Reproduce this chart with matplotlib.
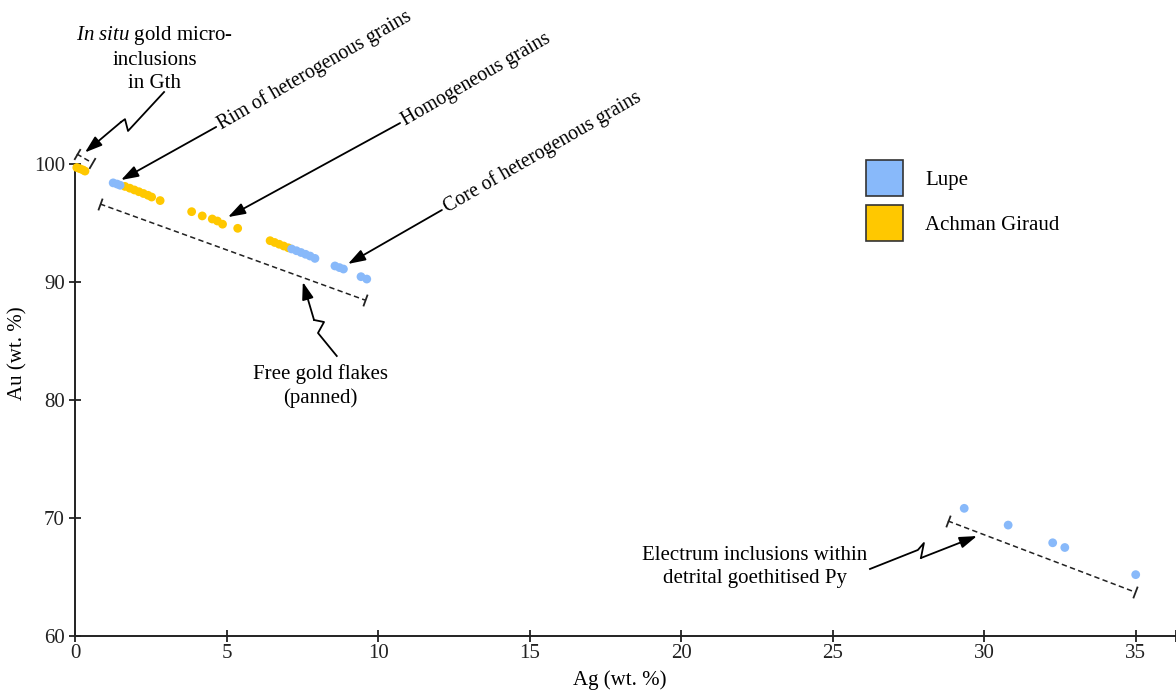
import numpy as np
import matplotlib
matplotlib.use("Agg")
import matplotlib.pyplot as plt
from matplotlib.patches import Patch

plt.rcParams['font.family'] = ['Liberation Serif', 'DejaVu Serif']
plt.rcParams['mathtext.fontset'] = 'custom'
plt.rcParams['mathtext.rm'] = 'Liberation Serif'
plt.rcParams['mathtext.it'] = 'Liberation Serif:italic'

# ---------------- data ----------------
lupe_ag = [1.25, 1.38, 1.48,
           7.14, 7.3, 7.45, 7.6, 7.75, 7.91,
           8.57, 8.72, 8.85,
           9.43, 9.62,
           29.34, 30.79, 32.26, 32.66, 35.0]
lupe_au = [98.4, 98.3, 98.2,
           92.8, 92.65, 92.5, 92.35, 92.2, 92.0,
           91.36, 91.22, 91.1,
           90.45, 90.25,
           70.82, 69.4, 67.9, 67.5, 65.2]

achman_ag = [0.05, 0.15, 0.25, 0.32,
             1.64, 1.8, 1.95, 2.1, 2.25, 2.4, 2.52, 2.8,
             3.84, 4.19, 4.52, 4.69, 4.86, 5.36,
             6.43, 6.58, 6.73, 6.88, 7.03]
achman_au = [99.7, 99.6, 99.5, 99.4,
             98.1, 97.95, 97.8, 97.65, 97.5, 97.35, 97.2, 96.9,
             95.96, 95.6, 95.34, 95.17, 94.9, 94.55,
             93.5, 93.35, 93.2, 93.05, 92.9]

x_ticks = [0, 5, 10, 15, 20, 25, 30, 35]
y_ticks = [60, 70, 80, 90, 100]
series_labels = ['Lupe', 'Achman Giraud']
blue = '#88B9FA'
yellow = '#FFC800'

FS = 15

fig = plt.figure(figsize=(11.76, 6.91), dpi=100)
ax = fig.add_axes([75.3 / 1176, 1 - 636 / 691, (1176 - 75.3) / 1176, (636 - 164) / 691])
xmax = 36.33
ax.set_xlim(0, xmax)
ax.set_ylim(60, 100)

for s in ['top', 'right']:
    ax.spines[s].set_visible(False)
for s in ['left', 'bottom']:
    ax.spines[s].set_linewidth(1.4)
    ax.spines[s].set_color('#222222')

ax.set_xticks(x_ticks)
ax.set_yticks(y_ticks)
ax.set_xticks([xmax], minor=True)
ax.tick_params(axis='both', which='both', direction='inout', length=9, width=1.3,
               labelsize=FS, colors='#222222')
ax.tick_params(axis='x', pad=1.5)
ax.tick_params(axis='y', pad=3)

ax.scatter(achman_ag, achman_au, s=40, color=yellow, edgecolors='none', zorder=3, clip_on=False)
ax.scatter(lupe_ag, lupe_au, s=40, color=blue, edgecolors='none', zorder=3, clip_on=False)

ax.set_xlabel('Ag (wt. %)', fontsize=FS)
ax.set_ylabel('Au (wt. %)', fontsize=FS)
ax.xaxis.set_label_coords(0.495, -0.072)
ax.yaxis.set_label_coords(-0.043, 0.60)

# legend
handles = [Patch(facecolor=blue, edgecolor='#333333', linewidth=1.2),
           Patch(facecolor=yellow, edgecolor='#333333', linewidth=1.2)]
fig.legend(handles, series_labels, loc='upper left', bbox_to_anchor=(866 / 1176, 1 - 160 / 691),
           bbox_transform=fig.transFigure, frameon=False, fontsize=FS, borderpad=0,
           borderaxespad=0, handlelength=1.78, handleheight=2.29, handletextpad=1.05,
           labelspacing=0.43)

# ---------------- annotations ----------------
arrow_kw = dict(arrowstyle='-|>,head_length=0.75,head_width=0.25', color='black', lw=1.3,
                shrinkA=0, shrinkB=0, mutation_scale=14)


def bracket(p0, p1):
    ax.plot([p0[0], p1[0]], [p0[1], p1[1]], ls=(0, (3.5, 2.2)), color='#222222', lw=1.1,
            clip_on=False, zorder=2)
    d0 = ax.transData.transform(p0)
    d1 = ax.transData.transform(p1)
    ang = np.degrees(np.arctan2(d1[1] - d0[1], d1[0] - d0[0]))
    for p in (p0, p1):
        ax.plot([p[0]], [p[1]], marker=(2, 0, ang), markersize=9, mew=1.3, color='#222222',
                clip_on=False, zorder=2)


def zigzag(points, tip):
    xs = [p[0] for p in points]
    ys = [p[1] for p in points]
    ax.plot(xs, ys, color='black', lw=1.3, clip_on=False, solid_joinstyle='round')
    ax.annotate('', xy=tip, xytext=points[-1], arrowprops=arrow_kw, annotation_clip=False)


# dashed brackets
bracket((0.82, 96.61), (9.56, 88.47))
bracket((28.80, 69.75), (34.97, 63.73))
bracket((0.05, 100.85), (0.54, 100.12))

# In situ annotation
ax.text(2.63, 108.95, '$\\mathit{In\\ situ}$ gold micro-\ninclusions\nin Gth', ha='center', va='center',
        fontsize=FS, linespacing=1.3, multialignment='center')
zigzag([(2.93, 106.1), (1.74, 102.8), (1.64, 103.8), (1.51, 103.56)], (0.32, 100.98))

# Free gold flakes
ax.text(8.08, 81.19, 'Free gold flakes\n(panned)', ha='center', va='center', fontsize=FS,
        linespacing=1.3)
zigzag([(8.63, 83.73), (8.01, 85.68), (8.21, 86.61), (7.88, 86.78)], (7.51, 90.0))

# Electrum
ax.text(22.43, 65.85, 'Electrum inclusions within\ndetrital goethitised Py', ha='center',
        va='center', fontsize=FS, linespacing=1.3)
zigzag([(26.23, 65.68), (27.81, 67.29), (28.01, 67.88), (27.91, 66.61)], (29.76, 68.47))

# rotated labels with arrows
rot_labels = [((4.65, 103.14), (1.51, 98.64), 'Rim of heterogenous grains'),
              ((10.72, 103.47), (5.04, 95.5), 'Homogeneous grains'),
              ((12.1, 96.1), (9.0, 91.53), 'Core of heterogenous grains')]
for start, tip, label in rot_labels:
    ax.annotate('', xy=tip, xytext=start, arrowprops=arrow_kw, annotation_clip=False)
    ax.text(start[0] + 0.1, start[1] + 0.1, label, rotation=30, rotation_mode='anchor',
            ha='left', va='center', fontsize=14.3)

fig.savefig('out.png', dpi=100)
